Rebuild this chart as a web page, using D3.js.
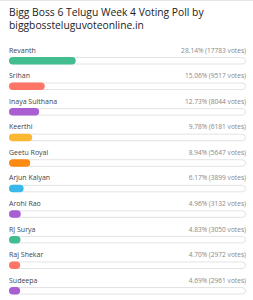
<!doctype html>
<html>
<head>
<style>
  body { margin: 0; background: #fff; }
  text { font-family: "Open Sans", "Noto Sans", sans-serif; }
</style>
<script src="https://d3js.org/d3.v7.min.js"></script>
</head>
<body>
<svg width="253" height="300"></svg>
<script>
var names = ["Revanth", "Srihan", "Inaya Sulthana", "Keerthi", "Geetu Royal",
             "Arjun Kalyan", "Arohi Rao", "RJ Surya", "Raj Shekar", "Sudeepa"];
var percents = [28.14, 15.06, 12.73, 9.78, 8.94, 6.17, 4.96, 4.83, 4.70, 4.69];
var votes = [17783, 9517, 8044, 6181, 5647, 3899, 3132, 3050, 2972, 2961];
var colors = ["#41bd8f", "#fd7566", "#a95fd1", "#fcb833", "#fd8a12",
              "#38b9e9", "#a95fd1", "#41bd8f", "#fd7566", "#a95fd1"];
var titleLines = ["Bigg Boss 6 Telugu Week 4 Voting Poll by", "biggbossteluguvoteonline.in"];

var svg = d3.select("svg");

// thin grey line on top
svg.append("line")
   .attr("x1", 0).attr("x2", 253).attr("y1", 0.5).attr("y2", 0.5)
   .attr("stroke", "#e6e6e6");

svg.selectAll(".title")
   .data(titleLines)
   .enter().append("text")
   .attr("x", 9)
   .attr("y", function(d, i) { return 15.5 + i * 13; })
   .attr("font-size", "10.3px")
   .attr("fill", "#222")
   .attr("font-weight", 500)
   .text(function(d) { return d; });

var left = 9, right = 246;
var x = d3.scaleLinear().domain([0, 100]).range([0, right - left]);
var y = d3.scaleBand().domain(names).range([40, 295.6]);

var rows = svg.selectAll(".row")
   .data(names)
   .enter().append("g")
   .attr("transform", function(d) { return "translate(0," + y(d) + ")"; });

rows.append("text")
   .attr("x", left).attr("y", 12.6)
   .attr("font-size", "7px")
   .attr("fill", "#444")
   .text(function(d) { return d; });

rows.append("text")
   .attr("x", right).attr("y", 12.6)
   .attr("text-anchor", "end")
   .attr("font-size", "6.6px")
   .attr("fill", "#888")
   .text(function(d, i) { return percents[i].toFixed(2) + "% (" + votes[i] + " votes)"; });

rows.append("rect")
   .attr("x", left + 0.5).attr("y", 17.5)
   .attr("width", right - left - 1).attr("height", 6.5)
   .attr("rx", 3.25)
   .attr("fill", "#fff")
   .attr("stroke", "#e3e3e3");

rows.append("rect")
   .attr("x", left).attr("y", 17)
   .attr("width", function(d, i) { return x(percents[i]); })
   .attr("height", 7.5)
   .attr("rx", 3.75)
   .attr("fill", function(d, i) { return colors[i]; });
</script>
</body>
</html>
